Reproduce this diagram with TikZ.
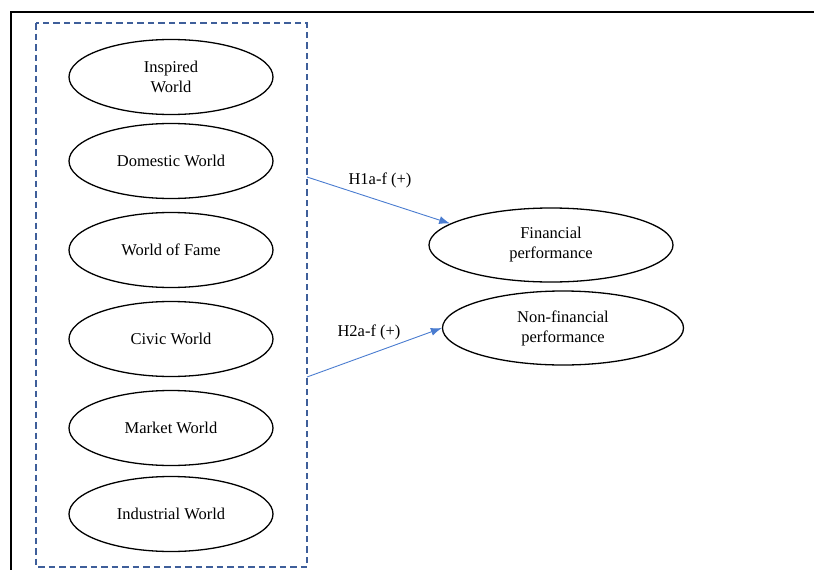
\documentclass[tikz,border=0pt]{standalone}
\usepackage{fontspec}
\setmainfont{Liberation Serif}
\usepackage{tikz}
\usetikzlibrary{shapes.geometric, arrows.meta}

\definecolor{boxblue}{HTML}{3E5E9A}
\definecolor{arrblue}{HTML}{4A7CD0}

\tikzset{
	world/.style={draw, line width=1.3pt, ellipse, minimum width=204pt, minimum height=75pt, inner sep=0pt, align=center, font=\fontsize{16.5}{20}\selectfont},
	perf/.style={draw, line width=1.3pt, ellipse, minimum width=244pt, minimum height=74pt, inner sep=0pt, align=center, font=\fontsize{16.5}{20}\selectfont},
	hyp/.style={-{Latex[length=11pt, width=8pt]}, line width=0.9pt, arrblue},
}

\begin{document}
\begin{tikzpicture}[x=1pt, y=-1pt]

	\useasboundingbox (0, 0) rectangle (814, 570);
	\draw [line width=1.4pt] (11, 570) -- (11, 12) -- (814, 12);

	% the six worlds
	\draw [boxblue, line width=1.3pt, dash pattern=on 6.5pt off 4pt] (36, 23) rectangle (307, 567);
	\node [world] (inspired) at (171, 77) {Inspired\\World};
	\node [world] (domestic) at (171, 161) {Domestic World};
	\node [world] (fame) at (171, 250) {World of Fame};
	\node [world] (civic) at (171, 339) {Civic World};
	\node [world] (market) at (171, 428) {Market World};
	\node [world] (industrial) at (171, 514) {Industrial World};

	% outcomes
	\node [perf] (fin) at (551, 245) {Financial\\performance};
	\node [perf, minimum width=241pt] (nonfin) at (563, 328) {Non-financial\\performance};

	\coordinate (h1) at (307, 177);
	\coordinate (h2) at (307, 377);
	\draw [hyp] (h1) -- (fin.168);
	\draw [hyp] (h2) -- (nonfin.west);
	\node [font=\fontsize{16.5}{20}\selectfont] (h1lab) at (380, 180) {H1a-f (+)};
	\node [font=\fontsize{16.5}{20}\selectfont] (h2lab) at (369, 332) {H2a-f (+)};

\end{tikzpicture}
\end{document}
